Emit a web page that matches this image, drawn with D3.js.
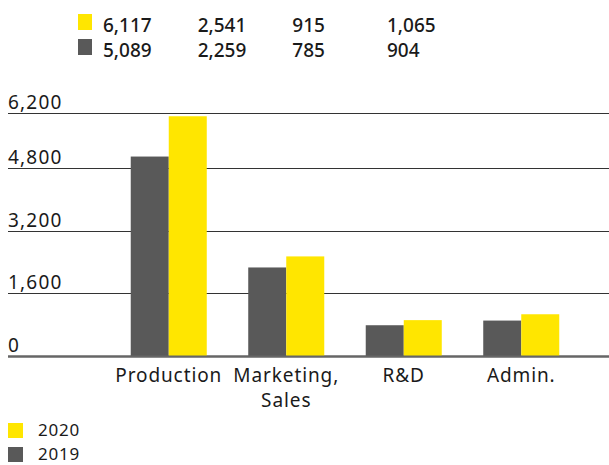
<!DOCTYPE html>
<html>
<head>
<meta charset="utf-8">
<script src="https://cdn.jsdelivr.net/npm/d3@7"></script>
<style>
  body { margin: 0; background: #fff; }
  text { font-family: "Noto Sans", "Open Sans", sans-serif; fill: #1a1a1a; }
</style>
</head>
<body>
<svg width="609" height="465"></svg>
<script>
var categories = ["Production", "Marketing,\nSales", "R&D", "Admin."];
var years = ["2019", "2020"];
var values2019 = [5089, 2259, 785, 904];
var values2020 = [6117, 2541, 915, 1065];
var yTicks = [0, 1600, 3200, 4800, 6200];
var colors = {"2019": "#595959", "2020": "#ffe600"};

var svg = d3.select("svg");
var fmt = d3.format(",");

var y = d3.scaleLinear().domain([0, 6200]).range([356, 113]);
var x0 = d3.scaleBand().domain(categories).range([110, 580])
    .paddingInner(0.353).paddingOuter(0.1765);
var x1 = d3.scaleBand().domain(years).range([0, x0.bandwidth()]);

// gridlines + y labels
var grid = svg.append("g");
yTicks.forEach(function(t) {
    grid.append("line")
        .attr("x1", 8).attr("x2", 609)
        .attr("y1", Math.round(y(t)) + 0.5).attr("y2", Math.round(y(t)) + 0.5)
        .attr("stroke", t === 0 ? "#666" : "#333")
        .attr("stroke-width", t === 0 ? 2 : 1);
    grid.append("text")
        .attr("x", 8).attr("y", y(t) - 4)
        .attr("font-size", 19)
        .attr("letter-spacing", 1.2)
        .text(fmt(t));
});

// bars
var rows = categories.map(function(c, i) {
    return {cat: c, vals: [{year: "2019", v: values2019[i]}, {year: "2020", v: values2020[i]}]};
});

var groups = svg.selectAll(".grp")
    .data(rows)
    .enter().append("g")
    .attr("class", "grp")
    .attr("transform", function(d) { return "translate(" + x0(d.cat) + ",0)"; });

groups.selectAll("rect")
    .data(function(d) { return d.vals; })
    .enter().append("rect")
    .attr("x", function(d) { return x1(d.year); })
    .attr("width", x1.bandwidth())
    .attr("y", function(d) { return y(d.v); })
    .attr("height", function(d) { return y(0) - y(d.v); })
    .attr("fill", function(d) { return colors[d.year]; });

// redraw baseline on top
svg.append("line")
    .attr("x1", 8).attr("x2", 609)
    .attr("y1", Math.round(y(0)) + 0.5).attr("y2", Math.round(y(0)) + 0.5)
    .attr("stroke", "#666").attr("stroke-width", 2);

// category labels
var labels = svg.append("g");
categories.forEach(function(c) {
    var cx = x0(c) + x0.bandwidth() / 2;
    var t = labels.append("text")
        .attr("text-anchor", "middle")
        .attr("font-size", 19)
        .attr("letter-spacing", 0.9)
        .attr("x", cx)
        .attr("y", 382);
    c.split("\n").forEach(function(line, i) {
        t.append("tspan")
            .attr("x", cx)
            .attr("dy", i === 0 ? 0 : 25)
            .text(line);
    });
});

// data table on top
var colX = d3.scaleLinear().domain([0, 3]).range([103, 387]);
var tableRows = [
    {year: "2020", vals: values2020, y: 32},
    {year: "2019", vals: values2019, y: 57}
];
var table = svg.append("g");
tableRows.forEach(function(r) {
    table.append("rect")
        .attr("x", 78).attr("y", r.y - 18)
        .attr("width", 14).attr("height", 16)
        .attr("fill", colors[r.year]);
    r.vals.forEach(function(v, i) {
        table.append("text")
            .attr("x", colX(i)).attr("y", r.y)
            .attr("font-size", 19)
            .attr("font-weight", 500)
            .text(fmt(v));
    });
});

// legend
var legendItems = [{year: "2020", y: 436}, {year: "2019", y: 460}];
var legend = svg.append("g");
legendItems.forEach(function(l) {
    legend.append("rect")
        .attr("x", 8).attr("y", l.y - 13)
        .attr("width", 15).attr("height", 15)
        .attr("fill", colors[l.year]);
    legend.append("text")
        .attr("x", 38).attr("y", l.y)
        .attr("font-size", 17)
        .attr("letter-spacing", 0.8)
        .text(l.year);
});
</script>
</body>
</html>
